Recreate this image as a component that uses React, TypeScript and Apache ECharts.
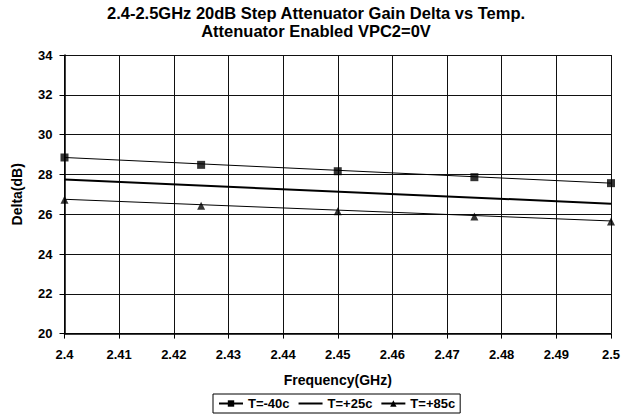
import React, { useEffect, useRef } from "react";
import * as echarts from "echarts";

const freq = [2.4, 2.425, 2.45, 2.475, 2.5];
const tMinus40 = [28.85, 28.48, 28.16, 27.86, 27.56];
const tPlus85 = [26.72, 26.43, 26.15, 25.88, 25.63];
const trendFreq = [2.4, 2.5];
const trendMinus40 = [28.85, 27.56];
const trendPlus25 = [27.74, 26.53];
const trendPlus85 = [26.75, 25.66];
const seriesNames = ["T=-40c", "T=+25c", "T=+85c"];

const FONT = "'Liberation Sans', Arial, sans-serif";

export default function App() {
  const ref = useRef<HTMLDivElement>(null);
  useEffect(() => {
    if (!ref.current) return;
    const chart = echarts.init(ref.current, undefined, { renderer: "svg" });
    const trendData = (vals: number[]) =>
      trendFreq.map((f, i) => ({ value: [f, vals[i]], symbol: "none" }));
    chart.setOption({
      animation: false,
      backgroundColor: "#fff",
      textStyle: { fontFamily: FONT },
      title: {
        text: "2.4-2.5GHz 20dB Step Attenuator Gain Delta vs Temp.\nAttenuator Enabled VPC2=0V",
        left: "center",
        top: -1,
        textStyle: {
          fontFamily: FONT,
          fontSize: 16.5,
          fontWeight: "bold",
          color: "#000",
          lineHeight: 18,
        },
      },
      grid: { left: 64.5, right: 21, top: 55, bottom: 82.4, containLabel: false },
      legend: {
        data: [
          { name: seriesNames[0] },
          { name: seriesNames[1], itemStyle: { color: "rgba(0,0,0,0)", opacity: 0, borderWidth: 0 } },
          { name: seriesNames[2] },
        ],
        left: 213,
        top: 394,
        borderColor: "#000",
        borderWidth: 1,
        padding: [3, 5, 3, 5],
        itemWidth: 24,
        itemHeight: 8,
        itemGap: 8,
        textStyle: { fontFamily: FONT, fontSize: 13, fontWeight: "bold", color: "#000" },
      },
      xAxis: {
        type: "value",
        min: 2.4,
        max: 2.5,
        interval: 0.01,
        name: "Frequency(GHz)",
        nameLocation: "middle",
        nameGap: 39,
        nameTextStyle: { fontFamily: FONT, fontSize: 14, fontWeight: "bold", color: "#000" },
        axisLine: { lineStyle: { color: "#000", width: 1.5 } },
        axisTick: { show: true, inside: false, length: 5, lineStyle: { color: "#000" } },
        axisLabel: {
          margin: 14,
          fontFamily: FONT,
          fontSize: 13,
          fontWeight: "bold",
          color: "#000",
          formatter: (v: number) => String(parseFloat(v.toFixed(2))),
        },
        splitLine: { show: true, lineStyle: { color: "#111", width: 1 } },
      },
      yAxis: {
        type: "value",
        min: 20,
        max: 34,
        interval: 2,
        name: "Delta(dB)",
        nameLocation: "middle",
        nameGap: 41,
        nameTextStyle: { fontFamily: FONT, fontSize: 14, fontWeight: "bold", color: "#000" },
        axisLine: { show: true, lineStyle: { color: "#000", width: 1.5 } },
        axisTick: { show: true, inside: false, length: 5, lineStyle: { color: "#000" } },
        axisLabel: { margin: 12, fontFamily: FONT, fontSize: 13, fontWeight: "bold", color: "#000" },
        splitLine: { show: true, lineStyle: { color: "#111", width: 1 } },
      },
      series: [
        {
          name: seriesNames[0],
          type: "line",
          data: trendData(trendMinus40),
          symbol: "rect",
          symbolSize: 8,
          itemStyle: { color: "#000" },
          lineStyle: { color: "#000", width: 1 },
          z: 3,
        },
        {
          name: seriesNames[1],
          type: "line",
          data: trendData(trendPlus25),
          symbol: "none",
          itemStyle: { color: "#000" },
          lineStyle: { color: "#000", width: 2 },
          z: 3,
        },
        {
          name: seriesNames[2],
          type: "line",
          data: trendData(trendPlus85),
          symbol: "triangle",
          symbolSize: 8,
          itemStyle: { color: "#000" },
          lineStyle: { color: "#000", width: 1 },
          z: 3,
        },
        {
          name: "T=-40c points",
          type: "scatter",
          data: freq.map((f, i) => [f, tMinus40[i]]),
          symbol: "rect",
          symbolSize: 8,
          itemStyle: { color: "#000" },
          z: 4,
        },
        {
          name: "T=+85c points",
          type: "scatter",
          data: freq.map((f, i) => [f, tPlus85[i]]),
          symbol: "triangle",
          symbolSize: 8,
          itemStyle: { color: "#000" },
          z: 4,
        },
      ],
    });
    return () => chart.dispose();
  }, []);
  return (
    <div
      ref={ref}
      style={{ position: "fixed", left: 0, top: 0, width: 632, height: 416 }}
    />
  );
}
